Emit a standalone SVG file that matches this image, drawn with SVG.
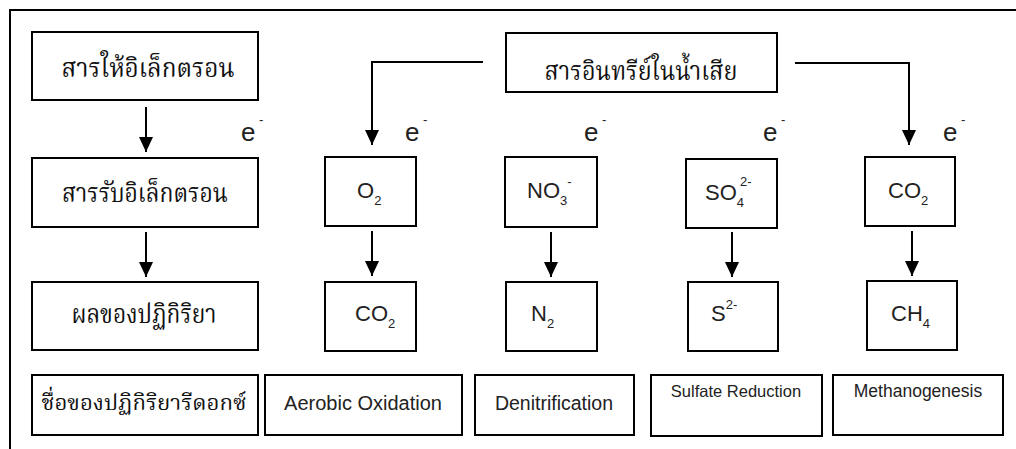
<svg xmlns="http://www.w3.org/2000/svg" width="1016" height="449" viewBox="0 0 1016 449">
<defs>
<marker id="ah" markerWidth="16" markerHeight="14" refX="15" refY="7" orient="auto" markerUnits="userSpaceOnUse">
<path d="M0,0 L15,7 L0,14 Z" fill="#000"/>
</marker>
<style>
.box{fill:#fff;stroke:#000;stroke-width:2}
.th{font-family:"Laksaman","TH Sarabun New","Kinnari","Norasi","Noto Serif Thai","Noto Sans Thai Looped","Noto Sans Thai","Liberation Serif",serif;fill:#111;text-anchor:middle}
.en{font-family:"Liberation Sans",Arial,sans-serif;fill:#222;text-anchor:middle}
.chem{font-family:"Liberation Sans",Arial,sans-serif;fill:#222;font-size:22px}
.e{font-family:"Liberation Sans",Arial,sans-serif;fill:#222;font-size:26px}
.sm{font-size:13px}
.con{fill:none;stroke:#000;stroke-width:2}
</style>
</defs>
<rect width="1016" height="449" fill="#fff"/>
<path d="M10,449 V10 H1016" fill="none" stroke="#000" stroke-width="2"/>

<g id="connectors">
<line class="con" x1="146" y1="107" x2="146" y2="152" marker-end="url(#ah)"/>
<line class="con" x1="146" y1="232" x2="146" y2="277" marker-end="url(#ah)"/>
<polyline class="con" points="483,62 372,62 372,145" marker-end="url(#ah)"/>
<polyline class="con" points="795,63 909,63 909,145" marker-end="url(#ah)"/>
<line class="con" x1="372" y1="231" x2="372" y2="276" marker-end="url(#ah)"/>
<line class="con" x1="551" y1="232" x2="551" y2="277" marker-end="url(#ah)"/>
<line class="con" x1="732" y1="232" x2="732" y2="277" marker-end="url(#ah)"/>
<line class="con" x1="912" y1="231" x2="912" y2="276" marker-end="url(#ah)"/>
</g>

<g id="electrons">
<text class="e" x="241" y="141">e</text><text class="e sm" x="259" y="124">-</text>
<text class="e" x="405" y="141">e</text><text class="e sm" x="423" y="124">-</text>
<text class="e" x="584" y="141">e</text><text class="e sm" x="602" y="124">-</text>
<text class="e" x="763" y="141">e</text><text class="e sm" x="781" y="124">-</text>
<text class="e" x="943" y="141">e</text><text class="e sm" x="961" y="124">-</text>
</g>

<g id="donor">
<rect class="box" x="32" y="32" width="226" height="68"/>
<text class="th" x="148" y="77" font-size="26" textLength="173" lengthAdjust="spacingAndGlyphs">สารให้อิเล็กตรอน</text>
</g>
<g id="organic">
<rect class="box" x="506" y="33" width="271" height="59"/>
<text class="th" x="641" y="80" font-size="26" textLength="193" lengthAdjust="spacingAndGlyphs">สารอินทรีย์ในน้ำเสีย</text>
</g>
<g id="acceptor">
<rect class="box" x="32" y="158" width="226" height="69"/>
<text class="th" x="145" y="202" font-size="26" textLength="166" lengthAdjust="spacingAndGlyphs">สารรับอิเล็กตรอน</text>
</g>
<g id="product">
<rect class="box" x="32" y="282" width="226" height="68"/>
<text class="th" x="144" y="323" font-size="26" textLength="145" lengthAdjust="spacingAndGlyphs">ผลของปฏิกิริยา</text>
</g>
<g id="redoxname">
<rect class="box" x="32" y="375" width="226" height="60"/>
<text class="th" x="144" y="410" font-size="22" textLength="205" lengthAdjust="spacingAndGlyphs">ชื่อของปฏิกิริยารีดอกซ์</text>
</g>

<g id="o2">
<rect class="box" x="325" y="157" width="91" height="69"/>
<text class="chem" x="357" y="198">O<tspan class="sm" dy="7">2</tspan></text>
</g>
<g id="no3">
<rect class="box" x="505" y="157" width="92" height="70"/>
<text class="chem" x="527" y="198">NO<tspan class="sm" dy="7">3</tspan><tspan class="sm" dy="-19">-</tspan></text>
</g>
<g id="so4">
<rect class="box" x="686" y="159" width="91" height="69"/>
<text class="chem" x="705" y="200">SO<tspan class="sm" dy="7">4</tspan><tspan class="sm" x="740" dy="-21">2-</tspan></text>
</g>
<g id="co2a">
<rect class="box" x="865" y="157" width="90" height="69"/>
<text class="chem" x="888" y="198">CO<tspan class="sm" dy="7">2</tspan></text>
</g>

<g id="co2b">
<rect class="box" x="325" y="282" width="91" height="69"/>
<text class="chem" x="355" y="321">CO<tspan class="sm" dy="7">2</tspan></text>
</g>
<g id="n2">
<rect class="box" x="506" y="282" width="91" height="69"/>
<text class="chem" x="531" y="321">N<tspan class="sm" dy="7">2</tspan></text>
</g>
<g id="s2">
<rect class="box" x="688" y="282" width="90" height="69"/>
<text class="chem" x="711" y="321">S<tspan class="sm" dy="-12">2-</tspan></text>
</g>
<g id="ch4">
<rect class="box" x="867" y="281" width="90" height="69"/>
<text class="chem" x="891" y="321">CH<tspan class="sm" dy="7">4</tspan></text>
</g>

<g id="aerobic">
<rect class="box" x="265" y="375" width="197" height="60"/>
<text class="en" x="363" y="410" font-size="20">Aerobic Oxidation</text>
</g>
<g id="denitrification">
<rect class="box" x="475" y="375" width="159" height="60"/>
<text class="en" x="554" y="410" font-size="19.5">Denitrification</text>
</g>
<g id="sulfate">
<rect class="box" x="651" y="375" width="171" height="61"/>
<text class="en" x="736" y="397" font-size="16.5">Sulfate Reduction</text>
</g>
<g id="methano">
<rect class="box" x="833" y="375" width="170" height="60"/>
<text class="en" x="918" y="397" font-size="17.5">Methanogenesis</text>
</g>
</svg>
